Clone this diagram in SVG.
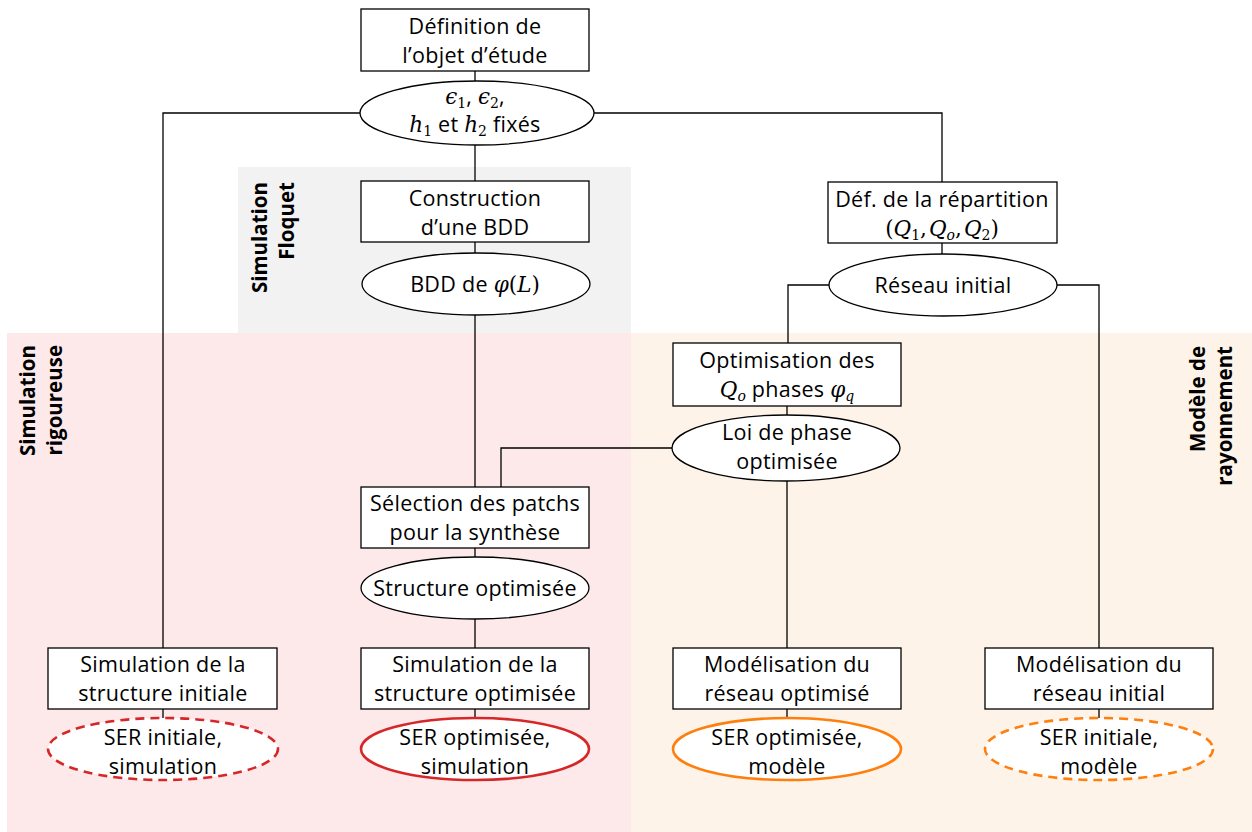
<svg xmlns="http://www.w3.org/2000/svg" width="1252" height="832" viewBox="0 0 1252 832">
<style>
.box{fill:#fff;stroke:#000;stroke-width:1.3}
.ell{fill:#fff;stroke:#000;stroke-width:1.3}
.t{font-family:"Open Sans","DejaVu Sans",sans-serif;font-size:21.5px;letter-spacing:0.3px;fill:#000;text-anchor:middle}
.m{font-family:"DejaVu Serif","Liberation Serif",serif;font-style:italic;letter-spacing:0}
.r{font-family:"DejaVu Serif","Liberation Serif",serif;font-style:normal;letter-spacing:0}
.sub{font-size:14px}
.lab{font-family:"Open Sans","DejaVu Sans",sans-serif;font-size:20.5px;font-weight:bold;fill:#000;text-anchor:end}
.conn{fill:none;stroke:#000;stroke-width:1.3}
.red{fill:#fff;stroke:#d62728;stroke-width:2.6}
.org{fill:#fff;stroke:#ff7f0e;stroke-width:2.6}
.dash{stroke-dasharray:9 6}
</style>
<rect width="1252" height="832" fill="#fff"/>
<g id="backgrounds">
<rect x="238" y="167" width="393" height="166" fill="#f2f2f2"/>
<rect x="7" y="333" width="624" height="499" fill="#fde9ea"/>
<rect x="631" y="333" width="621" height="499" fill="#fdf3e8"/>
</g>
<g id="labels">
<text class="lab" transform="translate(267,182) rotate(-90)">Simulation</text>
<text class="lab" transform="translate(294,182) rotate(-90)">Floquet</text>
<text class="lab" transform="translate(35,345) rotate(-90)">Simulation</text>
<text class="lab" transform="translate(62,345) rotate(-90)">rigoureuse</text>
<text class="lab" transform="translate(1205,346) rotate(-90)">Modèle de</text>
<text class="lab" transform="translate(1232,346) rotate(-90)">rayonnement</text>
</g>
<g id="connectors">
<path class="conn" d="M475 71V81"/>
<path class="conn" d="M475 145V181"/>
<path class="conn" d="M360 113H163V648"/>
<path class="conn" d="M594 113H942V182"/>
<path class="conn" d="M475 242V253"/>
<path class="conn" d="M475 315V487"/>
<path class="conn" d="M942 243V254"/>
<path class="conn" d="M829 285H788V343"/>
<path class="conn" d="M1057 285H1099V648"/>
<path class="conn" d="M787 406V415"/>
<path class="conn" d="M672 448H501V487"/>
<path class="conn" d="M787 481V648"/>
<path class="conn" d="M475 548V557"/>
<path class="conn" d="M475 619V648"/>
<path class="conn" d="M163 709V718"/>
<path class="conn" d="M475 709V718"/>
<path class="conn" d="M787 709V718"/>
<path class="conn" d="M1099 709V718"/>
</g>
<g id="n-definition">
<rect class="box" x="361" y="9" width="228" height="62"/>
<text class="t" x="475" y="34">Définition de</text>
<text class="t" x="475" y="63">l’objet d’étude</text>
</g>
<g id="n-params">
<ellipse class="ell" cx="477" cy="113" rx="117" ry="32"/>
<text class="t" x="475" y="104"><tspan class="m">ϵ</tspan><tspan class="r sub" dy="4">1</tspan><tspan dy="-4">, </tspan><tspan class="m">ϵ</tspan><tspan class="r sub" dy="4">2</tspan><tspan dy="-4">,</tspan></text>
<text class="t" x="475" y="132"><tspan class="m">h</tspan><tspan class="r sub" dy="4">1</tspan><tspan dy="-4"> et </tspan><tspan class="m">h</tspan><tspan class="r sub" dy="4">2</tspan><tspan dy="-4"> fixés</tspan></text>
</g>
<g id="n-construction">
<rect class="box" x="361" y="181" width="228" height="61"/>
<text class="t" x="475" y="206">Construction</text>
<text class="t" x="475" y="235">d’une BDD</text>
</g>
<g id="n-bdd">
<ellipse class="ell" cx="476" cy="284" rx="114" ry="31"/>
<text class="t" x="475" y="292">BDD de <tspan class="m">φ</tspan><tspan class="r">(</tspan><tspan class="m">L</tspan><tspan class="r">)</tspan></text>
</g>
<g id="n-repartition">
<rect class="box" x="828" y="182" width="229" height="61"/>
<text class="t" x="942" y="207">Déf. de la répartition</text>
<text class="t" x="942" y="236"><tspan class="r">(</tspan><tspan class="m">Q</tspan><tspan class="r sub" dy="4">1</tspan><tspan class="r" dy="-4">,</tspan><tspan class="m" dx="2">Q</tspan><tspan class="m sub" dy="4">o</tspan><tspan class="r" dy="-4">,</tspan><tspan class="m" dx="2">Q</tspan><tspan class="r sub" dy="4">2</tspan><tspan class="r" dy="-4">)</tspan></text>
</g>
<g id="n-reseau">
<ellipse class="ell" cx="943" cy="285" rx="114" ry="31"/>
<text class="t" x="943" y="293">Réseau initial</text>
</g>
<g id="n-optimisation">
<rect class="box" x="673" y="343" width="228" height="63"/>
<text class="t" x="787" y="368">Optimisation des</text>
<text class="t" x="787" y="397"><tspan class="m">Q</tspan><tspan class="m sub" dy="4">o</tspan><tspan dy="-4"> phases </tspan><tspan class="m">φ</tspan><tspan class="m sub" dy="4">q</tspan></text>
</g>
<g id="n-loi">
<ellipse class="ell" cx="786" cy="448" rx="114" ry="33"/>
<text class="t" x="787" y="440">Loi de phase</text>
<text class="t" x="787" y="469">optimisée</text>
</g>
<g id="n-selection">
<rect class="box" x="361" y="487" width="228" height="61"/>
<text class="t" x="475" y="511">Sélection des patchs</text>
<text class="t" x="475" y="540">pour la synthèse</text>
</g>
<g id="n-structure">
<ellipse class="ell" cx="475" cy="588" rx="114" ry="31"/>
<text class="t" x="475" y="596">Structure optimisée</text>
</g>
<g id="n-sim-init">
<rect class="box" x="48" y="648" width="229" height="61"/>
<text class="t" x="163" y="672">Simulation de la</text>
<text class="t" x="163" y="701">structure initiale</text>
</g>
<g id="n-sim-opt">
<rect class="box" x="361" y="648" width="228" height="61"/>
<text class="t" x="475" y="672">Simulation de la</text>
<text class="t" x="475" y="701">structure optimisée</text>
</g>
<g id="n-mod-opt">
<rect class="box" x="673" y="648" width="228" height="61"/>
<text class="t" x="787" y="672">Modélisation du</text>
<text class="t" x="787" y="701">réseau optimisé</text>
</g>
<g id="n-mod-init">
<rect class="box" x="985" y="648" width="228" height="61"/>
<text class="t" x="1099" y="672">Modélisation du</text>
<text class="t" x="1099" y="701">réseau initial</text>
</g>
<g id="n-ser-init-sim">
<ellipse class="red dash" cx="163" cy="749" rx="115" ry="31"/>
<text class="t" x="163" y="745">SER initiale,</text>
<text class="t" x="163" y="774">simulation</text>
</g>
<g id="n-ser-opt-sim">
<ellipse class="red" cx="475" cy="749" rx="114" ry="31"/>
<text class="t" x="475" y="745">SER optimisée,</text>
<text class="t" x="475" y="774">simulation</text>
</g>
<g id="n-ser-opt-mod">
<ellipse class="org" cx="787" cy="749" rx="114" ry="31"/>
<text class="t" x="787" y="745">SER optimisée,</text>
<text class="t" x="787" y="774">modèle</text>
</g>
<g id="n-ser-init-mod">
<ellipse class="org dash" cx="1099" cy="749" rx="114" ry="31"/>
<text class="t" x="1099" y="745">SER initiale,</text>
<text class="t" x="1099" y="774">modèle</text>
</g>
</svg>
